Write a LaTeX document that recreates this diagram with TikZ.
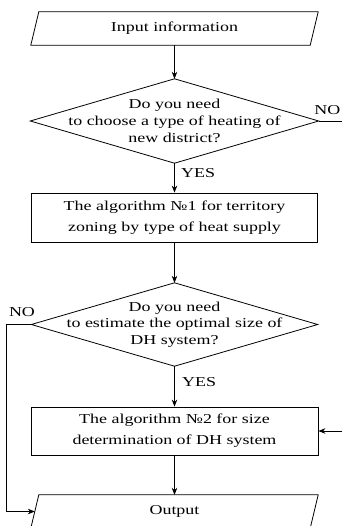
\documentclass[tikz,border=0pt]{standalone}
\usepackage{fontspec}
\setmainfont{Liberation Serif}[FakeStretch=1.32]
\usetikzlibrary{arrows.meta}
\begin{document}
\begin{tikzpicture}[x=1pt,y=-1pt,
  line/.style={line width=0.8pt},
  arr/.style={line width=0.8pt,-{Stealth[length=7pt,width=5.5pt]}},
  frame/.style={draw=none,inner sep=0pt,align=center,font=\fontsize{13.6}{16.7}\selectfont},
  boxed/.style={draw,line width=0.8pt,inner sep=0pt,align=center,font=\fontsize{13.6}{21}\selectfont},
  lbl/.style={inner sep=0pt,font=\fontsize{13.6}{16.7}\selectfont}]
\useasboundingbox (0,0) rectangle (341,526);

\node[frame,minimum width=279,minimum height=33] (in) at (174.5,28.5) {Input information};
\draw[line] ([xshift=-4]in.south west) -- ([xshift=4]in.north west) -- ([xshift=4]in.north east) -- ([xshift=-4]in.south east) -- cycle;

\node[frame,minimum width=288,minimum height=84] (d1) at (174.5,121) {Do you need\\to choose a type of heating of\\new district?};
\draw[line] (d1.north) -- (d1.east) -- (d1.south) -- (d1.west) -- cycle;

\node[boxed,minimum width=286,minimum height=49] (b1) at (174.5,217.5) {The algorithm №1 for territory\\zoning by type of heat supply};

\node[frame,minimum width=286,minimum height=83] (d2) at (174.5,324.5) {Do you need\\to estimate the optimal size of\\DH system?};
\draw[line] (d2.north) -- (d2.east) -- (d2.south) -- (d2.west) -- cycle;

\node[boxed,minimum width=287,minimum height=48] (b2) at (174.5,431) {The algorithm №2 for size\\determination of DH system};

\node[frame,minimum width=279,minimum height=33] (out) at (174.5,511.5) {Output};
\draw[line] ([xshift=-4]out.south west) -- ([xshift=4]out.north west) -- ([xshift=4]out.north east) -- ([xshift=-4]out.south east) -- cycle;

\draw[arr] (in.south) -- (d1.north);
\draw[arr] (d1.south) -- (b1.north);
\draw[arr] (b1.south) -- (d2.north);
\draw[arr] (d2.south) -- (b2.north);
\draw[arr] (b2.south) -- (out.north);
\draw[arr] (d1.east) -- ++(40,0) |- (b2.east);
\draw[arr] (d2.west) -- ++(-25,0) |- (out.west);

\node[lbl,anchor=west] (y1) at (181,173) {YES};
\node[lbl,anchor=west] (y2) at (182,382) {YES};
\node[lbl,anchor=east] (n1) at (340.5,110) {NO};
\node[lbl] (n2) at (22,312) {NO};
\end{tikzpicture}
\end{document}
